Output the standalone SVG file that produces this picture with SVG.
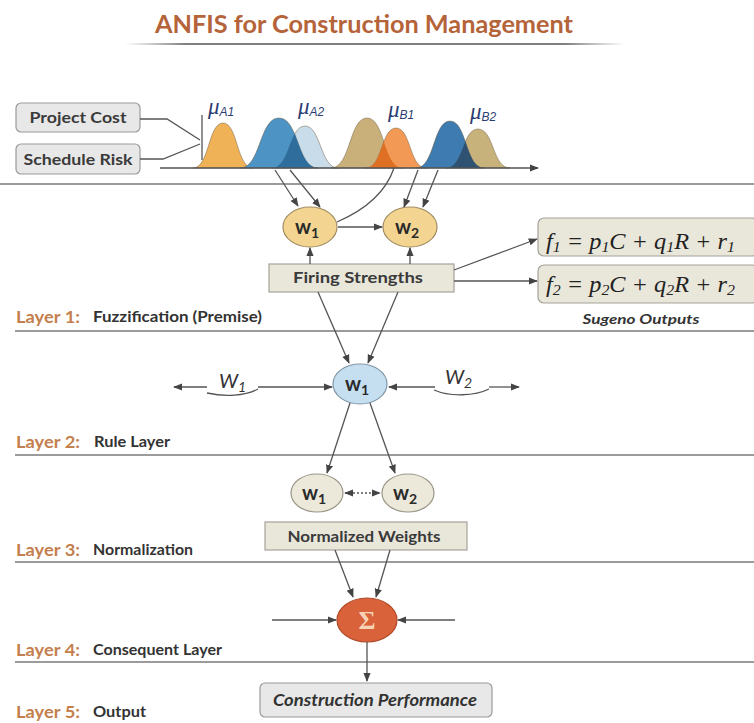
<svg xmlns="http://www.w3.org/2000/svg" width="754" height="723" viewBox="0 0 754 723">
<defs>
<style>
.sep{stroke:#7a7a7a;stroke-width:1.3;fill:none}
.con{stroke:#555;stroke-width:1.3;fill:none}
.lay{font-family:Lato,"Open Sans",sans-serif;font-weight:700;font-size:17px;fill:#c47f4e}
.desc{font-family:Lato,"Open Sans",sans-serif;font-weight:700;font-size:14.5px;fill:#333}
.box{fill:#e8e8e8;stroke:#9a9a9a;stroke-width:1.2}
.pbox{fill:#e9e6da;stroke:#a5a39a;stroke-width:1.2}
.btxt{font-family:Lato,"Open Sans",sans-serif;font-weight:700;font-size:15.5px;fill:#3a3a3a;text-anchor:middle}
.ntxt{font-family:Lato,"Open Sans",sans-serif;font-weight:700;font-size:20px;fill:#2a2a2a;text-anchor:middle}
.mu{font-family:"Liberation Serif",serif;font-style:italic;font-size:23px;fill:#2c3d73}
.mus{font-family:"Liberation Sans",sans-serif;font-style:italic;font-size:12px;fill:#2c3d73}
.bell{stroke:#6b5a40;stroke-width:0.8;stroke-opacity:0.6}
.eq{font-family:"Liberation Serif",serif;font-style:italic;font-size:23px;fill:#222}
</style>
<marker id="ar" viewBox="0 0 10 10" refX="9" refY="5" markerWidth="7" markerHeight="7" orient="auto-start-reverse">
<path d="M0,1 L10,5 L0,9 z" fill="#444"/>
</marker>
<linearGradient id="tl" gradientUnits="userSpaceOnUse" x1="125" y1="44" x2="625" y2="44">
<stop offset="0" stop-color="#666" stop-opacity="0"/>
<stop offset="0.12" stop-color="#555"/>
<stop offset="0.88" stop-color="#555"/>
<stop offset="1" stop-color="#666" stop-opacity="0"/>
</linearGradient>
<clipPath id="cLB"><path d="M272,168 C289.6,168 289,126 305,126 C321,126 320.4,168 338,168 Z"/></clipPath>
<clipPath id="cO2"><path d="M366,168 C382.5,168 381,128 396,128 C411,128 409.5,168 426,168 Z"/></clipPath>
<clipPath id="cT2"><path d="M446,168 C463.6,168 462,129 478,129 C494,129 492.4,168 510,168 Z"/></clipPath>
</defs>
<rect width="754" height="723" fill="#fff"/>

<g id="title">
<text x="364" y="33" text-anchor="middle" font-family="Lato,'Open Sans',sans-serif" font-weight="700" font-size="25" fill="#b5643a" textLength="418" lengthAdjust="spacingAndGlyphs">ANFIS for Construction Management</text>
<line x1="125" y1="44" x2="625" y2="44" stroke="url(#tl)" stroke-width="1.6"/>
</g>

<g id="separators">
<line class="sep" x1="0" y1="184" x2="754" y2="184"/>
<line class="sep" x1="15" y1="331" x2="754" y2="331"/>
<line class="sep" x1="15" y1="455" x2="754" y2="455"/>
<line class="sep" x1="15" y1="562" x2="754" y2="562"/>
<line class="sep" x1="15" y1="662" x2="754" y2="662"/>
</g>

<g id="layer-labels">
<text class="lay" x="16" y="323" textLength="64" lengthAdjust="spacingAndGlyphs">Layer 1:</text>
<text class="desc" x="93" y="322" textLength="169" lengthAdjust="spacingAndGlyphs">Fuzzification (Premise)</text>
<text class="lay" x="16" y="448" textLength="64" lengthAdjust="spacingAndGlyphs">Layer 2:</text>
<text class="desc" x="94" y="447" textLength="76" lengthAdjust="spacingAndGlyphs">Rule Layer</text>
<text class="lay" x="16" y="556" textLength="64" lengthAdjust="spacingAndGlyphs">Layer 3:</text>
<text class="desc" x="93" y="555" textLength="100" lengthAdjust="spacingAndGlyphs">Normalization</text>
<text class="lay" x="16" y="656" textLength="64" lengthAdjust="spacingAndGlyphs">Layer 4:</text>
<text class="desc" x="93" y="655" textLength="129" lengthAdjust="spacingAndGlyphs">Consequent Layer</text>
<text class="lay" x="16" y="718" textLength="64" lengthAdjust="spacingAndGlyphs">Layer 5:</text>
<text class="desc" x="93" y="717" textLength="53" lengthAdjust="spacingAndGlyphs">Output</text>
</g>

<g id="input-project-cost">
<rect class="box" x="16" y="103" width="124" height="29" rx="5"/>
<text class="btxt" x="78" y="123" textLength="97" lengthAdjust="spacingAndGlyphs">Project Cost</text>
</g>
<g id="input-schedule-risk">
<rect class="box" x="16" y="144" width="124" height="30" rx="5"/>
<text class="btxt" x="78" y="165" textLength="109" lengthAdjust="spacingAndGlyphs">Schedule Risk</text>
</g>

<g id="membership-functions">
<path class="bell" fill="#f0b257" d="M193,168 C209.5,168 208,123 223,123 C238,123 236.5,168 253,168 Z"/>
<path class="bell" fill="#c8dcea" d="M272,168 C289.6,168 289,126 305,126 C321,126 320.4,168 338,168 Z"/>
<path class="bell" fill="#4d93c4" d="M240,168 C261,168 259,118 279,118 C299,118 297,168 318,168 Z"/>
<path fill="#2f6d9c" clip-path="url(#cLB)" d="M240,168 C261,168 259,118 279,118 C299,118 297,168 318,168 Z"/>
<path class="bell" fill="#c9b07a" d="M331,168 C350.8,168 349,118 367,118 C385,118 383.2,168 403,168 Z"/>
<path class="bell" fill="#f29a55" d="M366,168 C382.5,168 381,128 396,128 C411,128 409.5,168 426,168 Z"/>
<path fill="#df6f22" clip-path="url(#cO2)" d="M331,168 C350.8,168 349,118 367,118 C385,118 383.2,168 403,168 Z"/>
<path class="bell" fill="#c8b27c" d="M446,168 C463.6,168 462,129 478,129 C494,129 492.4,168 510,168 Z"/>
<path class="bell" fill="#3d7bb0" d="M416,168 C434.7,168 433,121 450,121 C467,121 465.3,168 484,168 Z"/>
<path fill="#2f5272" clip-path="url(#cT2)" d="M416,168 C434.7,168 433,121 450,121 C467,121 465.3,168 484,168 Z"/>
<text x="208" y="114"><tspan class="mu">μ</tspan><tspan class="mus" dy="2">A1</tspan></text>
<text x="298" y="114"><tspan class="mu">μ</tspan><tspan class="mus" dy="2">A2</tspan></text>
<text x="388" y="117"><tspan class="mu">μ</tspan><tspan class="mus" dy="2">B1</tspan></text>
<text x="470" y="119"><tspan class="mu">μ</tspan><tspan class="mus" dy="2">B2</tspan></text>
</g>

<g id="fuzzy-w1">
<ellipse cx="310" cy="227" rx="27" ry="20" fill="#f3d591" stroke="#a08c60" stroke-width="1.2"/>
<text class="ntxt" x="307" y="234">w<tspan font-size="14" dy="4">1</tspan></text>
</g>
<g id="fuzzy-w2">
<ellipse cx="410" cy="227" rx="27" ry="20" fill="#f3d591" stroke="#a08c60" stroke-width="1.2"/>
<text class="ntxt" x="407" y="234">w<tspan font-size="14" dy="4">2</tspan></text>
</g>

<g id="firing-strengths">
<rect class="pbox" x="269" y="264" width="185" height="28"/>
<text class="btxt" x="358" y="283" textLength="130" lengthAdjust="spacingAndGlyphs">Firing Strengths</text>
</g>

<g id="sugeno-f1">
<rect class="pbox" x="538" y="218" width="220" height="38" rx="6"/>
<text class="eq" x="546" y="249" textLength="189" lengthAdjust="spacingAndGlyphs">f<tspan font-size="15" dy="3">1</tspan><tspan dy="-3"> = p</tspan><tspan font-size="15" dy="3">1</tspan><tspan dy="-3">C + q</tspan><tspan font-size="15" dy="3">1</tspan><tspan dy="-3">R + r</tspan><tspan font-size="15" dy="3">1</tspan></text>
</g>
<g id="sugeno-f2">
<rect class="pbox" x="538" y="265" width="220" height="38" rx="6"/>
<text class="eq" x="546" y="292" textLength="189" lengthAdjust="spacingAndGlyphs">f<tspan font-size="15" dy="3">2</tspan><tspan dy="-3"> = p</tspan><tspan font-size="15" dy="3">2</tspan><tspan dy="-3">C + q</tspan><tspan font-size="15" dy="3">2</tspan><tspan dy="-3">R + r</tspan><tspan font-size="15" dy="3">2</tspan></text>
<text x="641" y="324" text-anchor="middle" font-family="Lato,'Open Sans',sans-serif" font-style="italic" font-weight="700" font-size="14" fill="#333" textLength="117" lengthAdjust="spacingAndGlyphs">Sugeno Outputs</text>
</g>

<g id="rule-w1">
<ellipse cx="360" cy="384" rx="27" ry="20" fill="#c5dff0" stroke="#7f96a8" stroke-width="1.2"/>
<text class="ntxt" x="357" y="391">w<tspan font-size="14" dy="4">1</tspan></text>
</g>

<g id="norm-w1">
<ellipse cx="317" cy="493" rx="26" ry="19" fill="#ece9db" stroke="#9a9788" stroke-width="1.2"/>
<text class="ntxt" x="314" y="500">w<tspan font-size="14" dy="4">1</tspan></text>
</g>
<g id="norm-w2">
<ellipse cx="408" cy="493" rx="26" ry="19" fill="#ece9db" stroke="#9a9788" stroke-width="1.2"/>
<text class="ntxt" x="405" y="500">w<tspan font-size="14" dy="4">2</tspan></text>
</g>

<g id="normalized-weights">
<rect class="pbox" x="265" y="522" width="202" height="28"/>
<text class="btxt" x="364" y="542" textLength="153" lengthAdjust="spacingAndGlyphs">Normalized Weights</text>
</g>

<g id="sum-node">
<ellipse cx="367" cy="620" rx="30" ry="22" fill="#d9623a" stroke="#b04a28" stroke-width="1.2"/>
<text x="367" y="629" text-anchor="middle" font-family="'Liberation Serif',serif" font-weight="700" font-size="26" fill="#f7d3b5">Σ</text>
</g>

<g id="construction-performance">
<rect class="box" x="260" y="683" width="232" height="34" rx="5" fill="#ececec"/>
<text x="375" y="706" text-anchor="middle" font-family="Lato,'Open Sans',sans-serif" font-style="italic" font-weight="700" font-size="17" fill="#333" textLength="204" lengthAdjust="spacingAndGlyphs">Construction Performance</text>
</g>

<g id="connectors">
<path class="con" d="M140,119 L167,119 L200,140"/>
<path class="con" d="M140,159 L163,159 L200,144"/>
<line class="con" x1="202" y1="115" x2="202" y2="160"/>
<line class="con" x1="160" y1="168" x2="538" y2="168" marker-end="url(#ar)"/>
<line class="con" x1="275" y1="170" x2="298" y2="206" marker-end="url(#ar)"/>
<line class="con" x1="290" y1="170" x2="320" y2="207" marker-end="url(#ar)"/>
<line class="con" x1="418" y1="170" x2="404" y2="207" marker-end="url(#ar)"/>
<line class="con" x1="438" y1="170" x2="423" y2="207" marker-end="url(#ar)"/>
<path class="con" d="M337,222 C360,212 385,195 394,168"/>
<line class="con" x1="338" y1="227" x2="382" y2="227" marker-end="url(#ar)"/>
<line class="con" x1="310" y1="264" x2="310" y2="248" marker-end="url(#ar)"/>
<line class="con" x1="410" y1="264" x2="410" y2="248" marker-end="url(#ar)"/>
<line class="con" x1="454" y1="270" x2="537" y2="239" marker-end="url(#ar)"/>
<line class="con" x1="454" y1="281" x2="537" y2="281" marker-end="url(#ar)"/>
<line class="con" x1="318" y1="292" x2="349" y2="363" marker-end="url(#ar)"/>
<line class="con" x1="398" y1="292" x2="368" y2="363" marker-end="url(#ar)"/>
<path class="con" d="M174,387 L207,387" marker-start="url(#ar)"/>
<path class="con" d="M207,393 C225,397 245,396 258,389"/>
<path class="con" d="M258,387 L332,387" marker-end="url(#ar)"/>
<text x="219" y="388" font-family="Lato,'Open Sans',sans-serif" font-style="italic" font-size="20" fill="#333">W<tspan font-size="14" dy="4">1</tspan></text>
<path class="con" d="M435,387 L389,387" marker-end="url(#ar)"/>
<path class="con" d="M434,390 C450,397 475,396 489,389"/>
<path class="con" d="M489,387 L519,387" marker-end="url(#ar)"/>
<text x="445" y="384" font-family="Lato,'Open Sans',sans-serif" font-style="italic" font-size="20" fill="#333">W<tspan font-size="14" dy="4">2</tspan></text>
<line class="con" x1="350" y1="403" x2="327" y2="473" marker-end="url(#ar)"/>
<line class="con" x1="370" y1="403" x2="395" y2="473" marker-end="url(#ar)"/>
<line class="con" x1="345" y1="493" x2="380" y2="493" stroke-dasharray="2,2" marker-start="url(#ar)" marker-end="url(#ar)"/>
<line class="con" x1="335" y1="550" x2="353" y2="597" marker-end="url(#ar)"/>
<line class="con" x1="390" y1="550" x2="376" y2="597" marker-end="url(#ar)"/>
<line class="con" x1="272" y1="620" x2="336" y2="620" marker-end="url(#ar)"/>
<line class="con" x1="455" y1="620" x2="398" y2="620" marker-end="url(#ar)"/>
<line class="con" x1="367" y1="642" x2="367" y2="681" marker-end="url(#ar)"/>
</g>
</svg>
